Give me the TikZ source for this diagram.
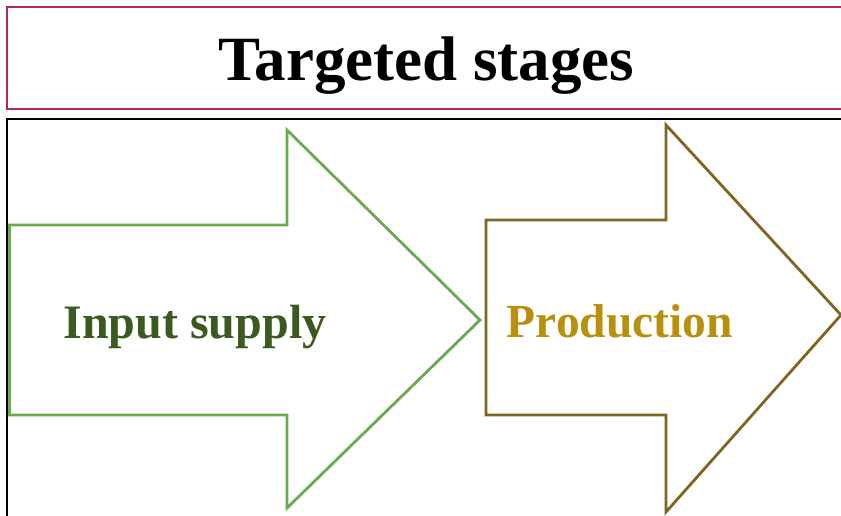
\documentclass[tikz,border=0pt]{standalone}
\usepackage{fontspec}
\setmainfont{Liberation Serif}
\definecolor{titlered}{HTML}{B3294C}
\definecolor{greenline}{HTML}{6AAA50}
\definecolor{brownline}{HTML}{7D6522}
\definecolor{greentext}{HTML}{3B5A22}
\definecolor{goldtext}{HTML}{B8900E}
\begin{document}
\begin{tikzpicture}[x=1pt,y=-1pt,
  arrowshape/.style={line width=2.8pt,line join=miter,fill=white},
  label/.style={font=\fontsize{48}{50}\selectfont\bfseries,anchor=base}]
\useasboundingbox (0,0) rectangle (841,515);
\fill[white] (0,0) rectangle (841,515);
\begin{scope}
\clip (0,0) rectangle (841,515);
% title box
\draw[titlered,line width=2.8pt] (7,7) rectangle (850,109);
% green arrow
\draw[arrowshape,draw=greenline] (9.5,225) -- (287,225) -- (287,130) -- (480,320) -- (287,508) -- (287,415) -- (9.5,415) -- cycle;
% main frame
\draw[black,line width=2pt] (7,119) rectangle (850,530);
% brown arrow
\draw[arrowshape,draw=brownline] (486,220) -- (666,220) -- (666,125) -- (841,315) -- (666,512) -- (666,415) -- (486,415) -- cycle;
\end{scope}
\node[font=\fontsize{63}{65}\selectfont\bfseries,anchor=base] (title) at (426.5,80) {Targeted stages};
\node[label,text=greentext] (input) at (195,338) {Input supply};
\node[label,text=goldtext,font=\fontsize{47.5}{50}\selectfont\bfseries] (prod) at (620,337) {Production};
\end{tikzpicture}
\end{document}
